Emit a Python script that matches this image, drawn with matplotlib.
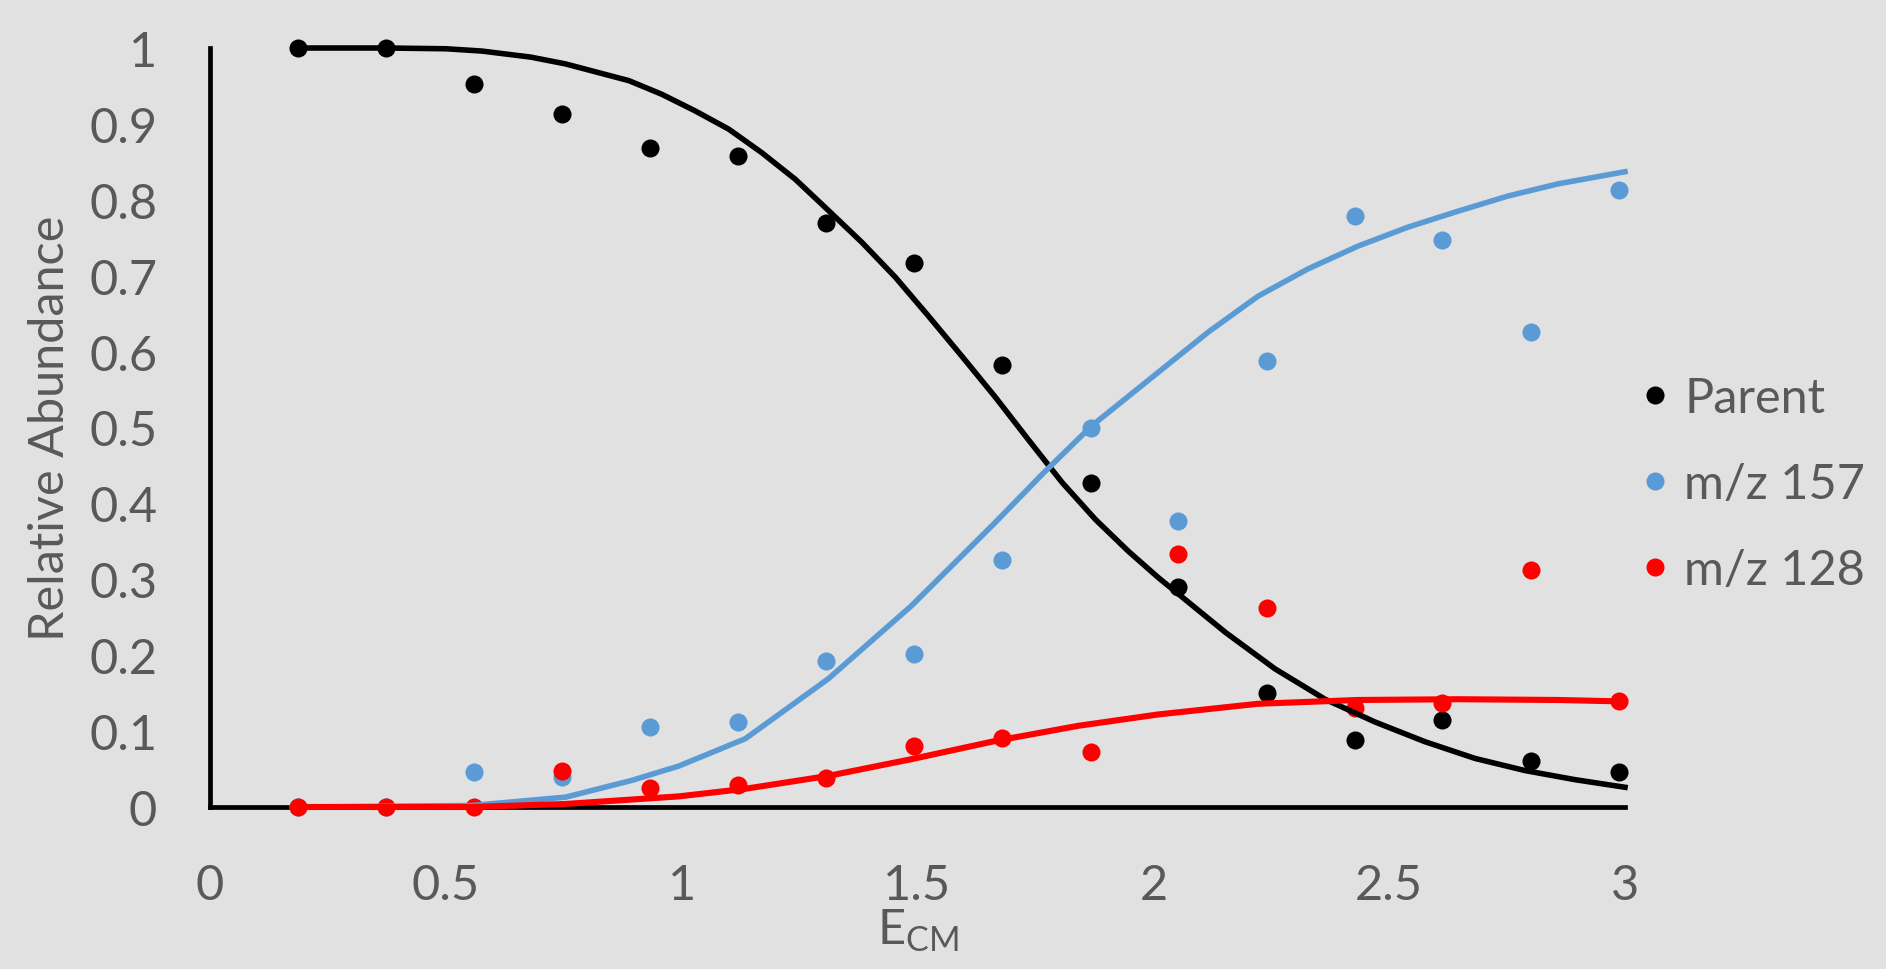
import matplotlib
matplotlib.use("Agg")
import matplotlib.pyplot as plt
from matplotlib.lines import Line2D

# collision energy values (measured points)
e_cm = [0.187, 0.373, 0.56, 0.747, 0.933, 1.12, 1.307, 1.493,
        1.68, 1.867, 2.053, 2.24, 2.427, 2.613, 2.8, 2.987]

parent = [1.0, 1.0, 0.953, 0.913, 0.868, 0.858, 0.770, 0.717,
          0.582, 0.427, 0.290, 0.150, 0.088, 0.115, 0.061, 0.046]
mz157 = [0.0, 0.0, 0.046, 0.039, 0.105, 0.112, 0.192, 0.201,
         0.325, 0.500, 0.377, 0.587, 0.779, 0.747, 0.626, 0.813]
mz128 = [0.0, 0.0, 0.0, 0.048, 0.025, 0.029, 0.038, 0.081,
         0.091, 0.072, 0.333, 0.262, 0.130, 0.137, 0.312, 0.140]

# fitted trend lines
fit_parent_x = [0.187, 0.373, 0.5, 0.576, 0.68, 0.754, 0.888, 0.958, 1.029,
                1.100, 1.170, 1.241, 1.311, 1.382, 1.453, 1.523, 1.594, 1.665,
                1.735, 1.806, 1.877, 1.947, 2.011, 2.153, 2.258, 2.364, 2.47,
                2.576, 2.682, 2.788, 2.894, 3.0]
fit_parent_y = [1.0, 1.0, 0.999, 0.996, 0.988, 0.979, 0.957, 0.939, 0.917,
                0.893, 0.862, 0.827, 0.786, 0.744, 0.698, 0.647, 0.594, 0.540,
                0.484, 0.428, 0.379, 0.337, 0.302, 0.230, 0.182, 0.142, 0.112,
                0.086, 0.064, 0.048, 0.036, 0.026]

fit_157_x = [0.187, 0.555, 0.754, 0.894, 0.994, 1.135, 1.311, 1.487, 1.594,
             1.665, 1.767, 1.869, 2.011, 2.117, 2.222, 2.328, 2.434, 2.54,
             2.646, 2.752, 2.858, 3.0]
fit_157_y = [0.0, 0.002, 0.013, 0.035, 0.054, 0.090, 0.169, 0.265, 0.331,
             0.375, 0.440, 0.502, 0.573, 0.626, 0.673, 0.709, 0.739, 0.764,
             0.785, 0.805, 0.821, 0.837]

fit_128_x = [0.187, 0.555, 0.754, 0.994, 1.135, 1.311, 1.487, 1.665, 1.841,
             2.011, 2.222, 2.434, 2.646, 2.858, 3.0]
fit_128_y = [0.0, 0.0, 0.004, 0.014, 0.024, 0.041, 0.063, 0.087, 0.107,
             0.122, 0.136, 0.141, 0.142, 0.141, 0.139]

series = ["Parent", "m/z 157", "m/z 128"]
colors = ["#000000", "#5b9bd5", "#ff0000"]

plt.rcParams['font.family'] = ['Lato', 'DejaVu Sans']
plt.rcParams['mathtext.fontset'] = 'custom'
plt.rcParams['mathtext.rm'] = 'Lato'
plt.rcParams['mathtext.it'] = 'Lato'
grey = '#595959'
bg = '#e1e1e1'

fig = plt.figure(figsize=(18.86, 9.70), dpi=100, facecolor=bg)
ax = fig.add_axes([210 / 1886, 1 - 808 / 970, 1415 / 1886, 759 / 970])
ax.set_facecolor(bg)

ms = 13
ax.plot(e_cm, parent, 'o', color=colors[0], ms=ms, mew=0, clip_on=False, zorder=3)
ax.plot(e_cm, mz157, 'o', color=colors[1], ms=ms, mew=0, clip_on=False, zorder=3)
ax.plot(e_cm, mz128, 'o', color=colors[2], ms=ms, mew=0, clip_on=False, zorder=3)

ax.plot(fit_parent_x, fit_parent_y, '-', color=colors[0], lw=4.0, clip_on=False,
        zorder=4, solid_joinstyle='round')
ax.plot(fit_157_x, fit_157_y, '-', color=colors[1], lw=4.0, clip_on=False,
        zorder=4, solid_joinstyle='round')
ax.plot(fit_128_x, fit_128_y, '-', color=colors[2], lw=4.4, clip_on=False,
        zorder=4, solid_joinstyle='round')

ax.set_xlim(0, 3)
ax.set_ylim(0, 1)
ax.set_xticks([0, 0.5, 1, 1.5, 2, 2.5, 3])
ax.set_xticklabels(['0', '0.5', '1', '1.5', '2', '2.5', '3'])
ax.set_yticks([i / 10 for i in range(11)])
ax.set_yticklabels(['0'] + ['0.%d' % i for i in range(1, 10)] + ['1'])
ax.tick_params(length=0, labelsize=35, labelcolor=grey)
ax.tick_params(axis='y', pad=38)
ax.tick_params(axis='x', pad=40)

for s in ['top', 'right']:
    ax.spines[s].set_visible(False)
for s in ['left', 'bottom']:
    ax.spines[s].set_linewidth(3.4)
    ax.spines[s].set_color('black')

ax.set_ylabel('Relative Abundance', fontsize=35, color=grey, labelpad=12)
ax.set_xlabel(r'$\mathrm{E_{CM}}$', fontsize=35, color=grey, labelpad=0)

handles = [Line2D([], [], ls='', marker='o', ms=ms, mew=0, color=c) for c in colors]
fig.legend(handles, series, loc='upper left', bbox_to_anchor=(1616 / 1886, 1 - 353 / 970),
           frameon=False, fontsize=35, labelcolor=grey, handlelength=0.6,
           handletextpad=0.3, labelspacing=0.86, borderpad=0)

fig.savefig('out.png', dpi=100, facecolor=bg)
